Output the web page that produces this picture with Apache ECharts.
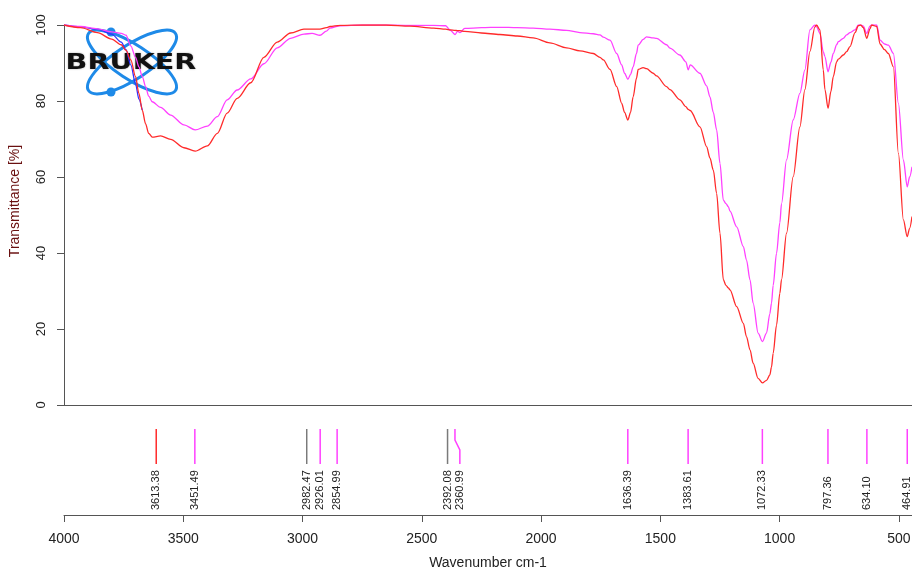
<!DOCTYPE html>
<html>
<head>
<meta charset="utf-8">
<title>FTIR spectrum</title>
<script src="https://cdn.jsdelivr.net/npm/echarts@6.0.0/dist/echarts.min.js"></script>
<style>
  html, body { margin: 0; padding: 0; background: #fff; }
  #chart { width: 912px; height: 570px; }
</style>
</head>
<body>
<div id="chart"></div>
<script>
// wavenumber grid (cm-1)
const wavenumbers = [4000, 3930, 3860, 3800, 3760, 3740, 3720, 3700, 3686, 3672,
  3658, 3645, 3630, 3595, 3553, 3497, 3450, 3399, 3357, 3316,
  3274, 3217, 3162, 3106, 3050, 2994, 2960, 2927, 2900, 2885,
  2843, 2750, 2650, 2550, 2450, 2400, 2380, 2361, 2350, 2340,
  2320, 2250, 2173, 2100, 2033, 1963, 1893, 1837, 1781, 1753,
  1739, 1711, 1683, 1662, 1650, 1636, 1625, 1614, 1600, 1593,
  1572, 1558, 1530, 1516, 1474, 1460, 1418, 1393, 1383, 1375,
  1334, 1306, 1292, 1278, 1264, 1250, 1236, 1225, 1215, 1208,
  1180, 1152, 1139, 1124, 1111, 1090, 1072, 1055, 1041, 1034,
  1027, 1013, 999, 992, 971, 943, 915, 894, 873, 852,
  845, 831, 817, 810, 797, 785, 775, 761, 754, 733,
  719, 705, 684, 670, 660, 649, 635, 621, 614, 593,
  579, 560, 544, 523, 502, 481, 465, 455, 445];

// transmittance [%] of the red spectrum
const redSpectrum = [100, 99.3, 98.0, 96.3, 94.8, 93.3, 90.8, 86.4, 82.0, 77.6,
  74.0, 71.5, 70.5, 70.8, 69.9, 67.7, 66.8, 68.2, 71.5, 76.8,
  80.7, 84.8, 91.5, 95.5, 97.9, 98.9, 98.9, 98.9, 99.3, 99.6,
  99.9, 100, 100, 99.7, 99.2, 98.9, 98.7, 98.6, 98.5, 98.5,
  98.3, 97.9, 97.5, 97.1, 96.6, 95.3, 94.0, 93.2, 92.5, 91.5,
  90.8, 88.3, 83.8, 79.4, 77.0, 75.0, 77.0, 81.1, 86.0, 88.3,
  88.8, 88.5, 87.3, 86.6, 83.8, 83.0, 80.3, 78.5, 77.8, 77.5,
  73.2, 68.0, 65.0, 61.8, 55.7, 45.2, 33.0, 31.5, 30.8, 30.3,
  25.9, 21.5, 18.0, 14.5, 11.0, 7.0, 5.8, 6.5, 7.9, 10.0,
  13.6, 21.0, 29.4, 33.0, 45.2, 60.1, 73.2, 83.0, 93.0, 99.5,
  100, 98.7, 88.2, 83.0, 78.1, 82.5, 86.4, 90.3, 91.0, 92.1,
  93.0, 94.3, 98.0, 99.8, 100, 99.3, 96.5, 99.0, 100, 99.6,
  95.0, 93.5, 92.5, 89.0, 66.2, 48.7, 44.3, 46.5, 49.6];

// transmittance [%] of the magenta spectrum
const magentaSpectrum = [100, 99.6, 99.0, 98.2, 97.8, 97.3, 94.5, 91.5, 89.0, 86.5,
  83.8, 81.3, 79.8, 78.3, 76.3, 73.7, 72.4, 73.4, 75.9, 80.3,
  82.9, 85.8, 89.8, 94.0, 96.5, 97.6, 97.8, 97.3, 98.4, 99.2,
  99.8, 100, 100, 99.9, 99.9, 99.8, 98.6, 97.5, 98.3, 98.0,
  99.1, 99.3, 99.4, 99.3, 99.2, 98.9, 98.6, 98.0, 97.7, 97.4,
  96.8, 96.0, 92.5, 89.5, 87.3, 85.7, 87.0, 89.0, 92.5, 94.7,
  96.2, 96.9, 96.6, 96.5, 94.8, 93.9, 92.1, 90.3, 88.2, 89.5,
  87.3, 84.0, 81.1, 77.0, 72.4, 63.6, 53.9, 53.0, 52.2, 51.0,
  46.9, 41.7, 38.2, 32.9, 26.8, 18.9, 16.7, 18.9, 24.0, 26.8,
  31.5, 39.9, 48.0, 53.0, 64.5, 75.0, 82.0, 88.2, 98.7, 100,
  99.5, 97.8, 93.0, 91.7, 87.7, 90.2, 92.5, 94.8, 95.6, 96.5,
  97.4, 98.0, 98.7, 100, 100, 99.7, 97.8, 99.7, 100, 100,
  96.0, 95.0, 94.7, 92.5, 79.4, 64.5, 57.4, 60.0, 62.7];

// blue spectrum, only visible where it leaves the red one
const blueWavenumbers = [4000, 3930, 3860, 3800, 3760, 3740, 3720, 3700, 3686, 3672];
const blueSpectrum = [100, 99.5, 98.9, 97.6, 95.5, 93.5, 89.5, 84.5, 80.5, 77.6];

// peak picks under the plot
const peakPositions = [3613.38, 3451.49, 2982.47, 2926.01, 2854.99, 2392.08, 2360.99,
  1636.39, 1383.61, 1072.33, 797.36, 634.10, 464.91];
const peakLabels = ["3613.38", "3451.49", "2982.47", "2926.01", "2854.99", "2392.08", "2360.99",
  "1636.39", "1383.61", "1072.33", "797.36", "634.10", "464.91"];
const peakOwner = ["red", "magenta", "gray", "magenta", "magenta", "gray", "magenta",
  "magenta", "magenta", "magenta", "magenta", "magenta", "magenta"];

const xTicks = [4000, 3500, 3000, 2500, 2000, 1500, 1000, 500];
const yTicks = [0, 20, 40, 60, 80, 100];
const xMin = 445, xMax = 4000;

const colors = { red: "#ff2a2a", magenta: "#ff40ff", gray: "#7a7a7a", blue: "#3030ff" };
const axisColor = "#555";
const font = "Liberation Sans, Arial, sans-serif";

function pairs(xs, ys) {
  return xs.map((x, i) => [x, ys[i]]);
}

const chart = echarts.init(document.getElementById("chart"), null, { renderer: "canvas" });

const option = {
  animation: false,
  backgroundColor: "#fff",
  grid: [
    { left: 64, right: 0, top: 25, height: 380, outerBoundsMode: "none", containLabel: false },
    { left: 64, right: 0, top: 405, height: 110, outerBoundsMode: "none", containLabel: false }
  ],
  xAxis: [
    {
      gridIndex: 0, type: "value", min: xMin, max: xMax, inverse: true, position: "top",
      axisLine: { show: true, lineStyle: { color: axisColor, width: 1 } },
      axisTick: { show: false }, axisLabel: { show: false }, splitLine: { show: false }
    },
    {
      gridIndex: 1, type: "value", min: xMin, max: xMax, inverse: true, position: "bottom",
      minInterval: 500, maxInterval: 500,
      name: "Wavenumber cm-1", nameLocation: "middle", nameGap: 41,
      nameTextStyle: { color: "#222", fontSize: 14, fontFamily: font },
      axisLine: { show: true, lineStyle: { color: axisColor, width: 1 } },
      axisTick: { show: true, length: 7, lineStyle: { color: axisColor } },
      axisLabel: {
        show: true, showMinLabel: false, hideOverlap: false, margin: 17, color: "#222", fontSize: 14, fontFamily: font,
        formatter: v => (xTicks.indexOf(v) >= 0 ? String(v) : "")
      },
      splitLine: { show: false }
    }
  ],
  yAxis: [
    {
      gridIndex: 0, type: "value", min: 0, max: 100, interval: 20,
      axisLine: { show: true, lineStyle: { color: axisColor, width: 1 } },
      axisTick: { show: true, length: 7, lineStyle: { color: axisColor } },
      axisLabel: {
        show: true, rotate: 90, margin: 16, color: "#222", fontSize: 13, fontFamily: font,
        formatter: v => (yTicks.indexOf(v) >= 0 ? String(v) : "")
      },
      splitLine: { show: false }
    },
    { gridIndex: 1, type: "value", min: 0, max: 1, show: false }
  ],
  graphic: [
    {
      type: "group", z: 1,
      children: [
        { type: "ellipse", x: 132, y: 62, rotation: 0.58, shape: { cx: 0, cy: 0, rx: 52, ry: 17 },
          style: { fill: null, stroke: "#1e8ae8", lineWidth: 3 } },
        { type: "ellipse", x: 132, y: 62, rotation: -0.58, shape: { cx: 0, cy: 0, rx: 52, ry: 17 },
          style: { fill: null, stroke: "#1e8ae8", lineWidth: 3 } },
        { type: "circle", shape: { cx: 111, cy: 32, r: 4.5 }, style: { fill: "#1e8ae8" } },
        { type: "circle", shape: { cx: 111, cy: 92, r: 4.5 }, style: { fill: "#1e8ae8" } },
        { type: "text", x: 131, y: 63, scaleX: 1.3,
          style: { text: "BRUKER", fill: "#111", font: "bold 22px DejaVu Sans",
            align: "center", verticalAlign: "middle", textShadowColor: "rgba(0,0,0,0.35)", textShadowBlur: 2 } }
      ]
    },
    {
      type: "text", x: 15, y: 201, rotation: Math.PI / 2, z: 1,
      style: { text: "Transmittance [%]", fill: "#6a1010", font: "14px " + font, align: "center", verticalAlign: "middle" }
    }
  ],
  series: [
    {
      type: "line", name: "blue", xAxisIndex: 0, yAxisIndex: 0, z: 3,
      data: pairs(blueWavenumbers, blueSpectrum), showSymbol: false, smooth: 0.3, smoothMonotone: "x",
      lineStyle: { color: colors.blue, width: 1.3 }
    },
    {
      type: "line", name: "magenta", xAxisIndex: 0, yAxisIndex: 0, z: 4,
      data: pairs(wavenumbers, magentaSpectrum), showSymbol: false, smooth: 0.3, smoothMonotone: "x",
      lineStyle: { color: colors.magenta, width: 1.3 }
    },
    {
      type: "line", name: "red", xAxisIndex: 0, yAxisIndex: 0, z: 5,
      data: pairs(wavenumbers, redSpectrum), showSymbol: false, smooth: 0.3, smoothMonotone: "x",
      lineStyle: { color: colors.red, width: 1.3 }
    },
    {
      type: "custom", name: "peaks", xAxisIndex: 1, yAxisIndex: 1,
      data: peakPositions.map(p => [p, 0.5]),
      encode: { x: 0, y: 1 },
      renderItem: function (params, api) {
        const idx = params.dataIndex;
        const top = params.coordSys.y;
        // push labels apart when two picks sit too close together
        let prev = -Infinity, px = 0, lx = 0;
        for (let j = 0; j <= idx; j++) {
          const p = api.coord([peakPositions[j], 0.5])[0];
          const l = Math.max(p, prev + 12.3);
          prev = l;
          if (j === idx) { px = p; lx = l; }
        }
        const pts = Math.abs(lx - px) < 0.5
          ? [[px, top + 24], [px, top + 59]]
          : [[px, top + 24], [px, top + 35], [lx, top + 45], [lx, top + 59]];
        return {
          type: "group",
          children: [
            { type: "polyline", shape: { points: pts },
              style: { stroke: colors[peakOwner[idx]], lineWidth: 1.5, fill: null } },
            { type: "text", x: lx, y: top + 105, rotation: Math.PI / 2,
              style: { text: peakLabels[idx], fill: "#222", font: "11px " + font,
                align: "left", verticalAlign: "middle" } }
          ]
        };
      }
    }
  ]
};

chart.setOption(option);
</script>
</body>
</html>
